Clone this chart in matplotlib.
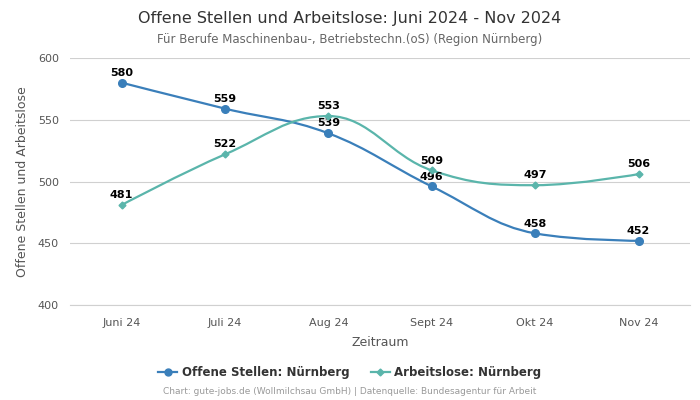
import numpy as np
import matplotlib
matplotlib.use("Agg")
import matplotlib.pyplot as plt
from matplotlib.path import Path
from matplotlib.patches import PathPatch
from matplotlib.lines import Line2D

# ---- data -------------------------------------------------------------------
months = ["Juni 24", "Juli 24", "Aug 24", "Sept 24", "Okt 24", "Nov 24"]
offene = [580, 559, 539, 496, 458, 452]
arbeitslose = [481, 522, 553, 509, 497, 506]

BLUE = "#3a7fba"
TEAL = "#5ab5ab"
GRID = "#d0d0d0"
TXT = "#333333"


def spline_path(xs, ys, smoothing=1.5):
    # Highcharts-style cubic spline through the points
    n = len(xs)
    lc = [None] * n
    rc = [None] * n
    denom = smoothing + 1
    for i in range(1, n - 1):
        x, y = xs[i], ys[i]
        px, py = xs[i - 1], ys[i - 1]
        nx, ny = xs[i + 1], ys[i + 1]
        lx = (smoothing * x + px) / denom
        ly = (smoothing * y + py) / denom
        rx = (smoothing * x + nx) / denom
        ry = (smoothing * y + ny) / denom
        if rx != lx:
            corr = ((ry - ly) * (rx - x)) / (rx - lx) + y - ry
            ly += corr
            ry += corr
        if ly > py and ly > y:
            ly = max(py, y); ry = 2 * y - ly
        elif ly < py and ly < y:
            ly = min(py, y); ry = 2 * y - ly
        if ry > ny and ry > y:
            ry = max(ny, y); ly = 2 * y - ry
        elif ry < ny and ry < y:
            ry = min(ny, y); ly = 2 * y - ry
        lc[i] = (lx, ly)
        rc[i] = (rx, ry)
    verts = [(xs[0], ys[0])]
    codes = [Path.MOVETO]
    for i in range(1, n):
        c1 = rc[i - 1] if rc[i - 1] else (xs[i - 1], ys[i - 1])
        c2 = lc[i] if lc[i] else (xs[i], ys[i])
        verts += [c1, c2, (xs[i], ys[i])]
        codes += [Path.CURVE4] * 3
    return Path(verts, codes)


fig = plt.figure(figsize=(7, 4), dpi=100)
ax = fig.add_axes([0.1, 0.2375, 0.886, 0.6175])

x = np.arange(len(months))
for vals, col, mk, ms in [(offene, BLUE, "o", 5.5), (arbeitslose, TEAL, "D", 3.5)]:
    ax.add_patch(PathPatch(spline_path(list(x), vals), facecolor="none",
                           edgecolor=col, lw=1.6, zorder=3))
    ax.plot(x, vals, ls="none", marker=mk, color=col, ms=ms, zorder=4)

for vals in (offene, arbeitslose):
    for xi, v in zip(x, vals):
        ax.annotate(str(v), (xi, v), xytext=(0, 3.5), textcoords="offset points",
                    ha="center", va="bottom", fontsize=8, fontweight="bold", color="black")

ax.set_xlim(-0.5, len(months) - 0.5)
ax.set_ylim(400, 600)
ax.set_yticks([400, 450, 500, 550, 600])
ax.set_xticks(x)
ax.set_xticklabels(months)
ax.tick_params(axis="both", length=0, labelsize=8, colors="#555555")
ax.tick_params(axis="x", pad=9)
ax.tick_params(axis="y", pad=8)
ax.grid(axis="y", color=GRID, lw=0.8)
ax.set_axisbelow(True)
for s in ["top", "right", "left"]:
    ax.spines[s].set_visible(False)
ax.spines["bottom"].set_color(GRID)
ax.set_xlabel("Zeitraum", fontsize=9, color="#555555", labelpad=6)
ax.set_ylabel("Offene Stellen und Arbeitslose", fontsize=9, color="#555555", labelpad=6)

fig.text(0.5, 0.955, "Offene Stellen und Arbeitslose: Juni 2024 - Nov 2024",
         ha="center", va="center", fontsize=11.5, color=TXT)
fig.text(0.5, 0.902, "Für Berufe Maschinenbau-, Betriebstechn.(oS) (Region Nürnberg)",
         ha="center", va="center", fontsize=8.5, color="#666666")

handles = [Line2D([0], [0], color=BLUE, marker="o", ms=5, lw=1.6),
           Line2D([0], [0], color=TEAL, marker="D", ms=3.5, lw=1.6)]
fig.legend(handles, ["Offene Stellen: Nürnberg", "Arbeitslose: Nürnberg"],
           loc="center", bbox_to_anchor=(0.5, 0.068), ncol=2, frameon=False,
           prop={"size": 8.5, "weight": "bold"}, labelcolor=TXT,
           handlelength=1.6, handletextpad=0.4, columnspacing=1.8)
fig.text(0.5, 0.02, "Chart: gute-jobs.de (Wollmilchsau GmbH) | Datenquelle: Bundesagentur für Arbeit",
         ha="center", va="center", fontsize=6.5, color="#999999")

fig.savefig("out.png", dpi=100)
